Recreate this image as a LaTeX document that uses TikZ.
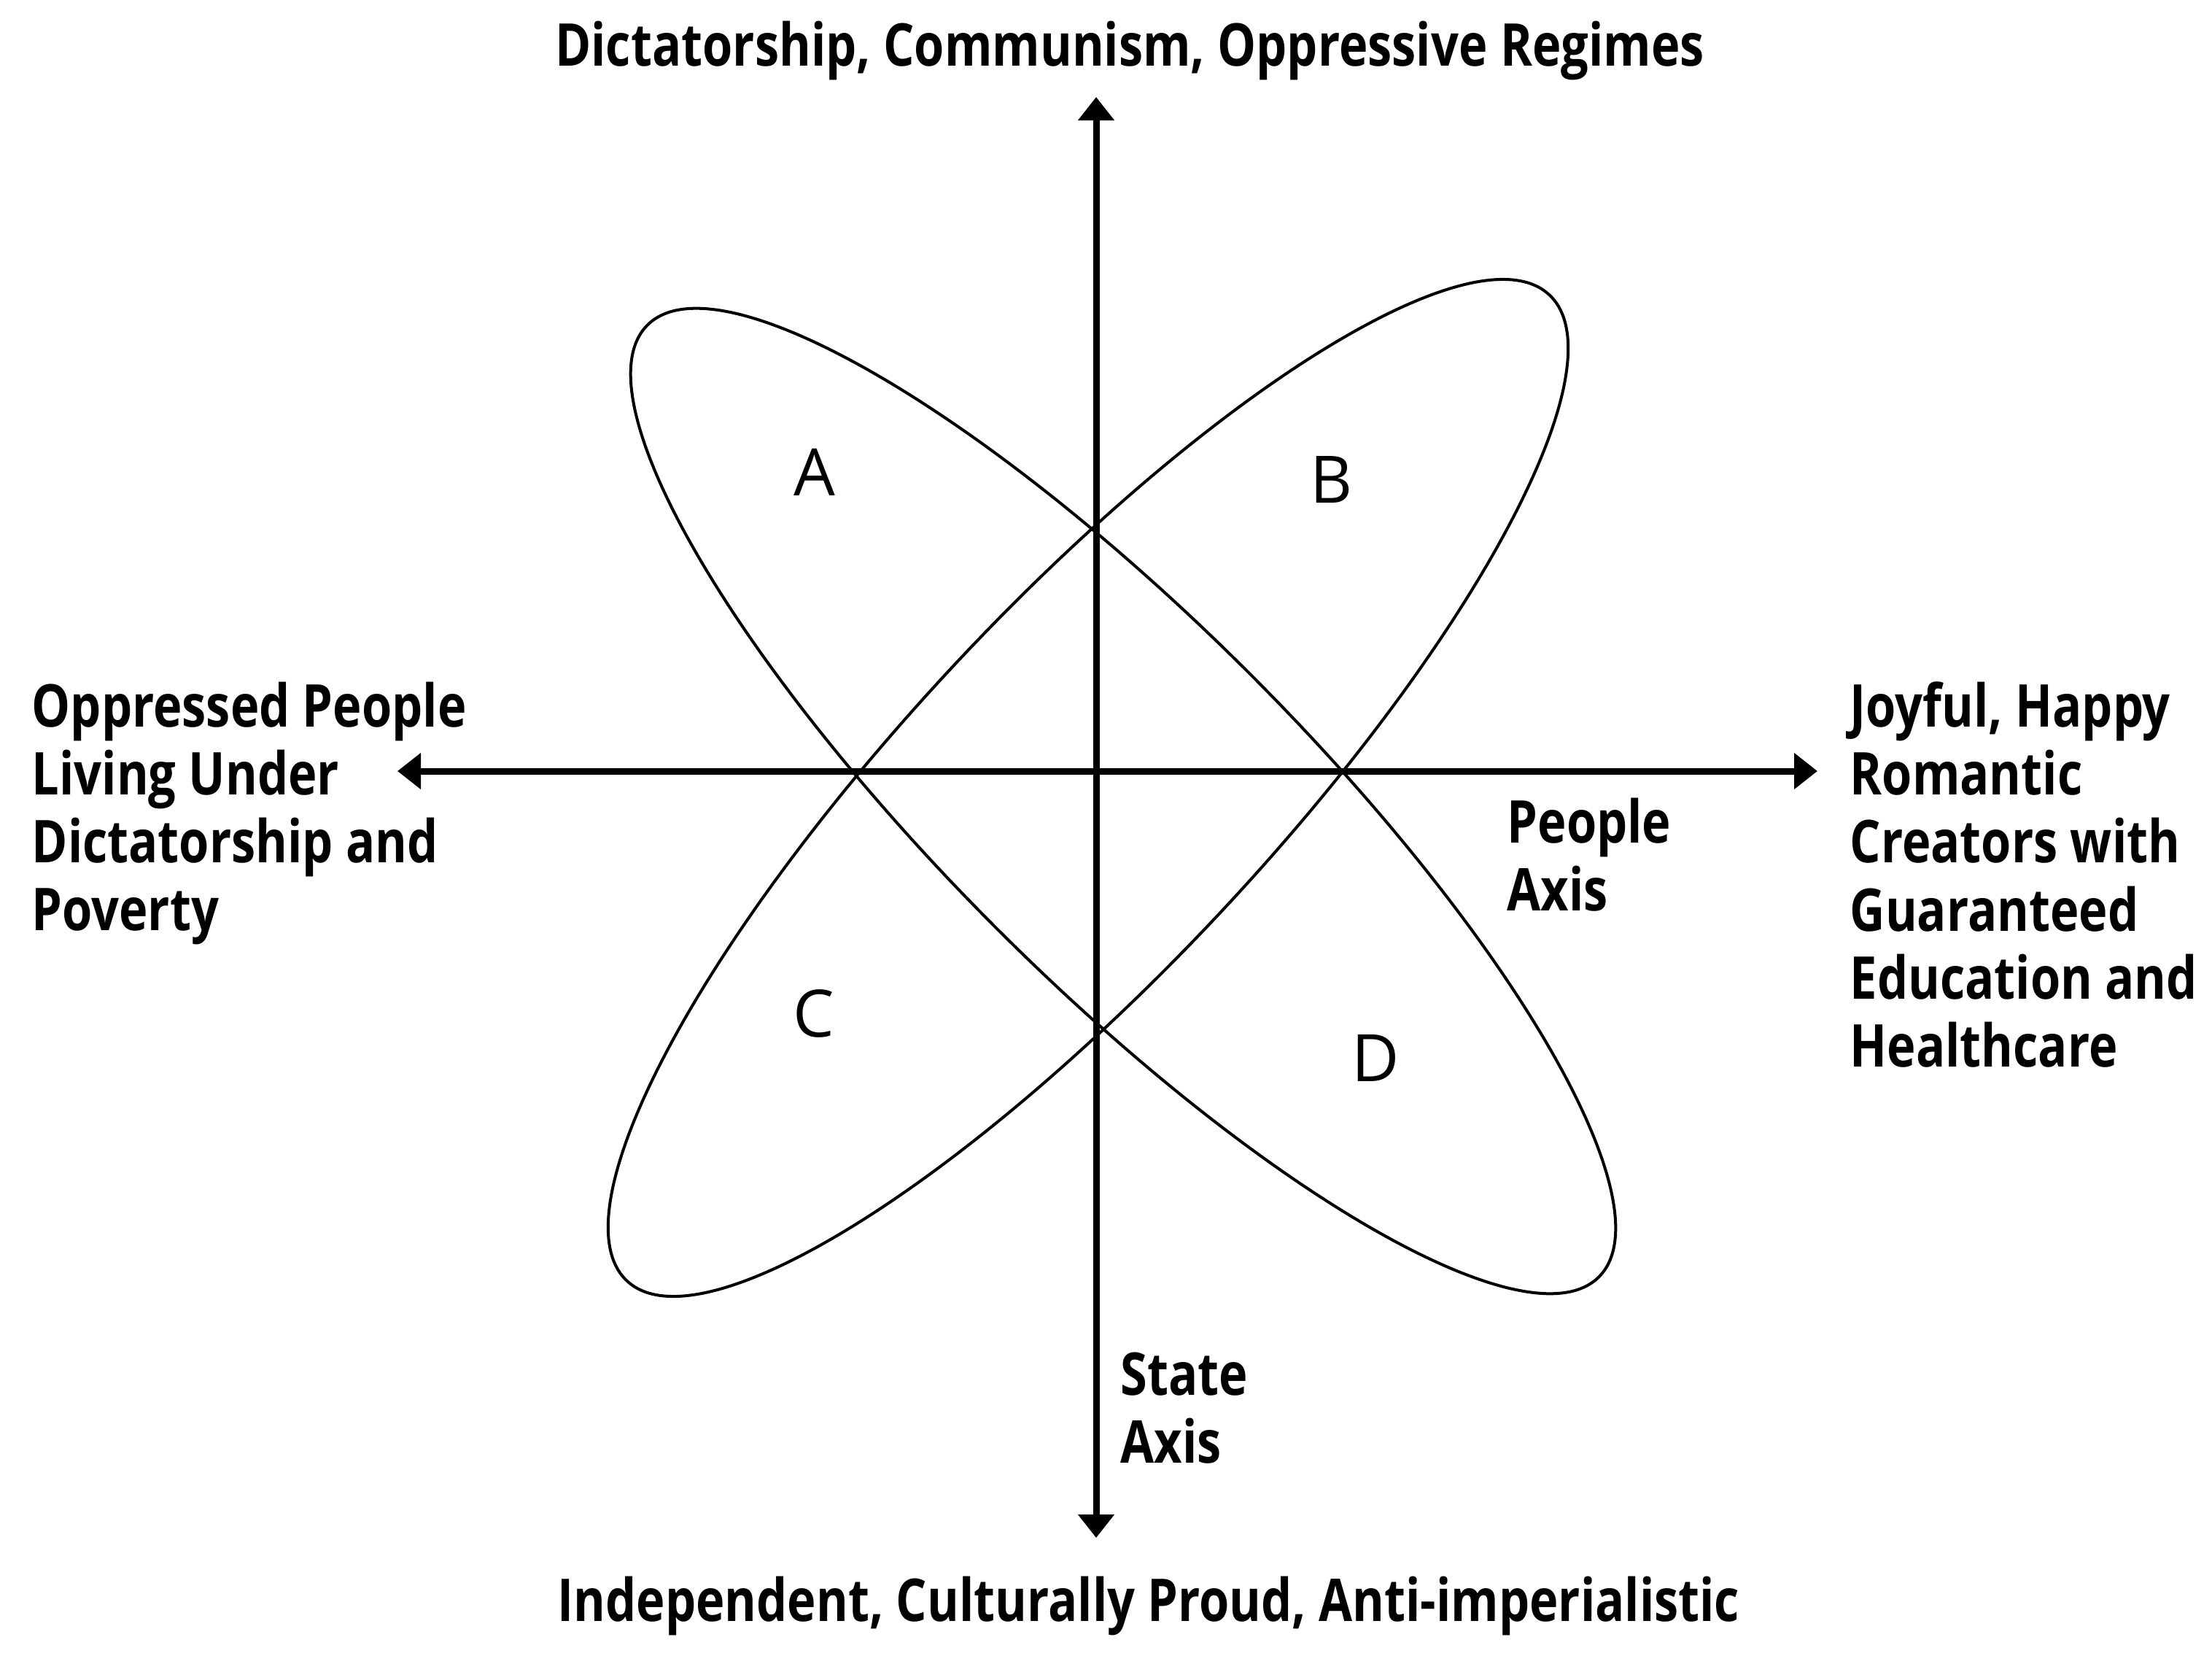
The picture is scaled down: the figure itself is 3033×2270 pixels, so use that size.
\documentclass[tikz,border=0pt]{standalone}
\usepackage{fontspec}
\usetikzlibrary{arrows.meta}
\newfontfamily\labfont{Open Sans}[FakeStretch=0.825]
\newfontfamily\letfont{Open Sans}
\begin{document}
\begin{tikzpicture}[x=0.01cm,y=-0.01cm,
  axisline/.style={line width=0.09cm, {Triangle[length=0.32cm,width=0.48cm]}-{Triangle[length=0.32cm,width=0.48cm]}},
  lobe/.style={line width=0.04cm},
  boldtxt/.style={font=\labfont\bfseries\fontsize{23}{26.5}\selectfont, inner sep=0pt, align=left},
  quad/.style={font=\letfont\fontsize{25.5}{28}\selectfont, inner sep=0pt}]
\useasboundingbox (0,0) rectangle (3033,2270);
% axes
\coordinate (ntop) at (1503,133);
\coordinate (nbot) at (1503,2108);
\coordinate (nleft) at (545,1057);
\coordinate (nright) at (2492,1057);
\draw[axisline] (nbot) -- (ntop);
\draw[axisline] (nleft) -- (nright);
% lobes
\begin{scope}[shift={(1540,1098)}, rotate=-45]
  \draw[lobe] (0,0) ellipse [x radius=9.22cm, y radius=2.46cm];
\end{scope}
\begin{scope}[shift={(1492,1080)}, rotate=46.9]
  \draw[lobe] (0,0) ellipse [x radius=9.25cm, y radius=2.49cm];
\end{scope}
% quadrant letters
\node[quad] (qa) at (1117,647) {A};
\node[quad] (qb) at (1826,657) {B};
\node[quad] (qc) at (1116,1389) {C};
\node[quad] (qd) at (1886,1450) {D};
% labels
\node[boldtxt, anchor=base] (ttop) at (1549,91) {Dictatorship, Communism, Oppressive Regimes};
\node[boldtxt, anchor=base] (tbot) at (1575,2222) {Independent, Culturally Proud, Anti-imperialistic};
\node[boldtxt, anchor=north west] (tleft) at (43,934) {Oppressed People\\Living Under\\Dictatorship and\\Poverty};
\node[boldtxt, anchor=north west] (tright) at (2536,934) {Joyful, Happy\\Romantic\\Creators with\\Guaranteed\\Education and\\Healthcare};
\node[boldtxt, anchor=north west] (tpeople) at (2066,1093) {People\\Axis};
\node[boldtxt, anchor=north west] (tstate) at (1536,1853) {State\\Axis};
\end{tikzpicture}
\end{document}
